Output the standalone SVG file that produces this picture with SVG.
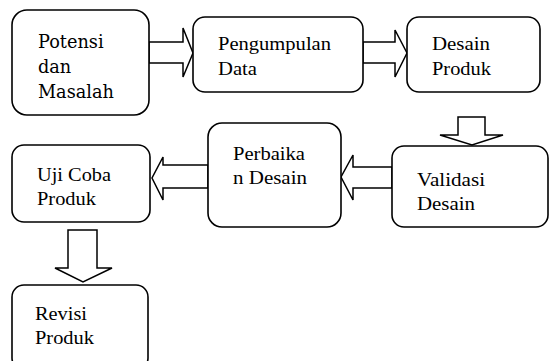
<svg xmlns="http://www.w3.org/2000/svg" width="551" height="361" viewBox="0 0 551 361">
<style>
.box{fill:#fff;stroke:#000;stroke-width:1.6}
.arr{fill:#fff;stroke:#000;stroke-width:1.5;stroke-linejoin:miter}
.t{font-family:'Liberation Serif','Times New Roman',serif;font-size:18px;fill:#000}
.c{font-family:'DejaVu Serif',serif;font-size:17.7px;fill:#000}
</style>
<rect width="551" height="361" fill="#fff"/>
<g id="connectors">
<polygon class="arr" points="149,42 183,42 183,28 193,53 183,77 183,63 149,63"/>
<polygon class="arr" points="363,42 395,42 395,30 407,53 395,77 395,63 363,63"/>
<polygon class="arr" points="458,117 485,117 485,135 503,135 472,145 440,135 458,135"/>
<polygon class="arr" points="392,167 353,167 353,155 341,177 353,200 353,188 392,188"/>
<polygon class="arr" points="208,165 163,165 163,157 152,178 163,200 163,188 208,188"/>
<polygon class="arr" points="68,230 97,230 97,268 112,268 83,282 55,268 68,268"/>
</g>
<g id="potensi">
<rect class="box" x="12" y="10" width="137" height="105" rx="15"/>
<text class="c" x="38" y="48">Potensi</text>
<text class="c" x="38" y="73">dan</text>
<text class="c" x="38" y="98">Masalah</text>
</g>
<g id="pengumpulan">
<rect class="box" x="193" y="17" width="170" height="75" rx="12"/>
<text class="t" x="218" y="49.5" textLength="113" lengthAdjust="spacingAndGlyphs">Pengumpulan</text>
<text class="t" x="218" y="74.5" textLength="39" lengthAdjust="spacingAndGlyphs">Data</text>
</g>
<g id="desain-produk">
<rect class="box" x="407" y="17" width="133" height="75" rx="12"/>
<text class="t" x="432" y="49.5" textLength="58" lengthAdjust="spacingAndGlyphs">Desain</text>
<text class="t" x="432" y="74.5" textLength="59" lengthAdjust="spacingAndGlyphs">Produk</text>
</g>
<g id="validasi">
<rect class="box" x="392" y="146" width="156" height="81" rx="12"/>
<text class="t" x="417" y="186" textLength="68" lengthAdjust="spacingAndGlyphs">Validasi</text>
<text class="t" x="417" y="210" textLength="58" lengthAdjust="spacingAndGlyphs">Desain</text>
</g>
<g id="perbaikan">
<rect class="box" x="208" y="123" width="133" height="104" rx="14"/>
<text class="t" x="233" y="160" textLength="72" lengthAdjust="spacingAndGlyphs">Perbaika</text>
<text class="t" x="233" y="184" textLength="74" lengthAdjust="spacingAndGlyphs">n Desain</text>
</g>
<g id="uji-coba">
<rect class="box" x="12" y="145" width="138" height="77" rx="12"/>
<text class="t" x="37" y="181" textLength="74" lengthAdjust="spacingAndGlyphs">Uji Coba</text>
<text class="t" x="37" y="205" textLength="59" lengthAdjust="spacingAndGlyphs">Produk</text>
</g>
<g id="revisi">
<rect class="box" x="12" y="285" width="136" height="85" rx="12"/>
<text class="t" x="35" y="319.5" textLength="52" lengthAdjust="spacingAndGlyphs">Revisi</text>
<text class="t" x="35" y="344" textLength="59" lengthAdjust="spacingAndGlyphs">Produk</text>
</g>
</svg>
